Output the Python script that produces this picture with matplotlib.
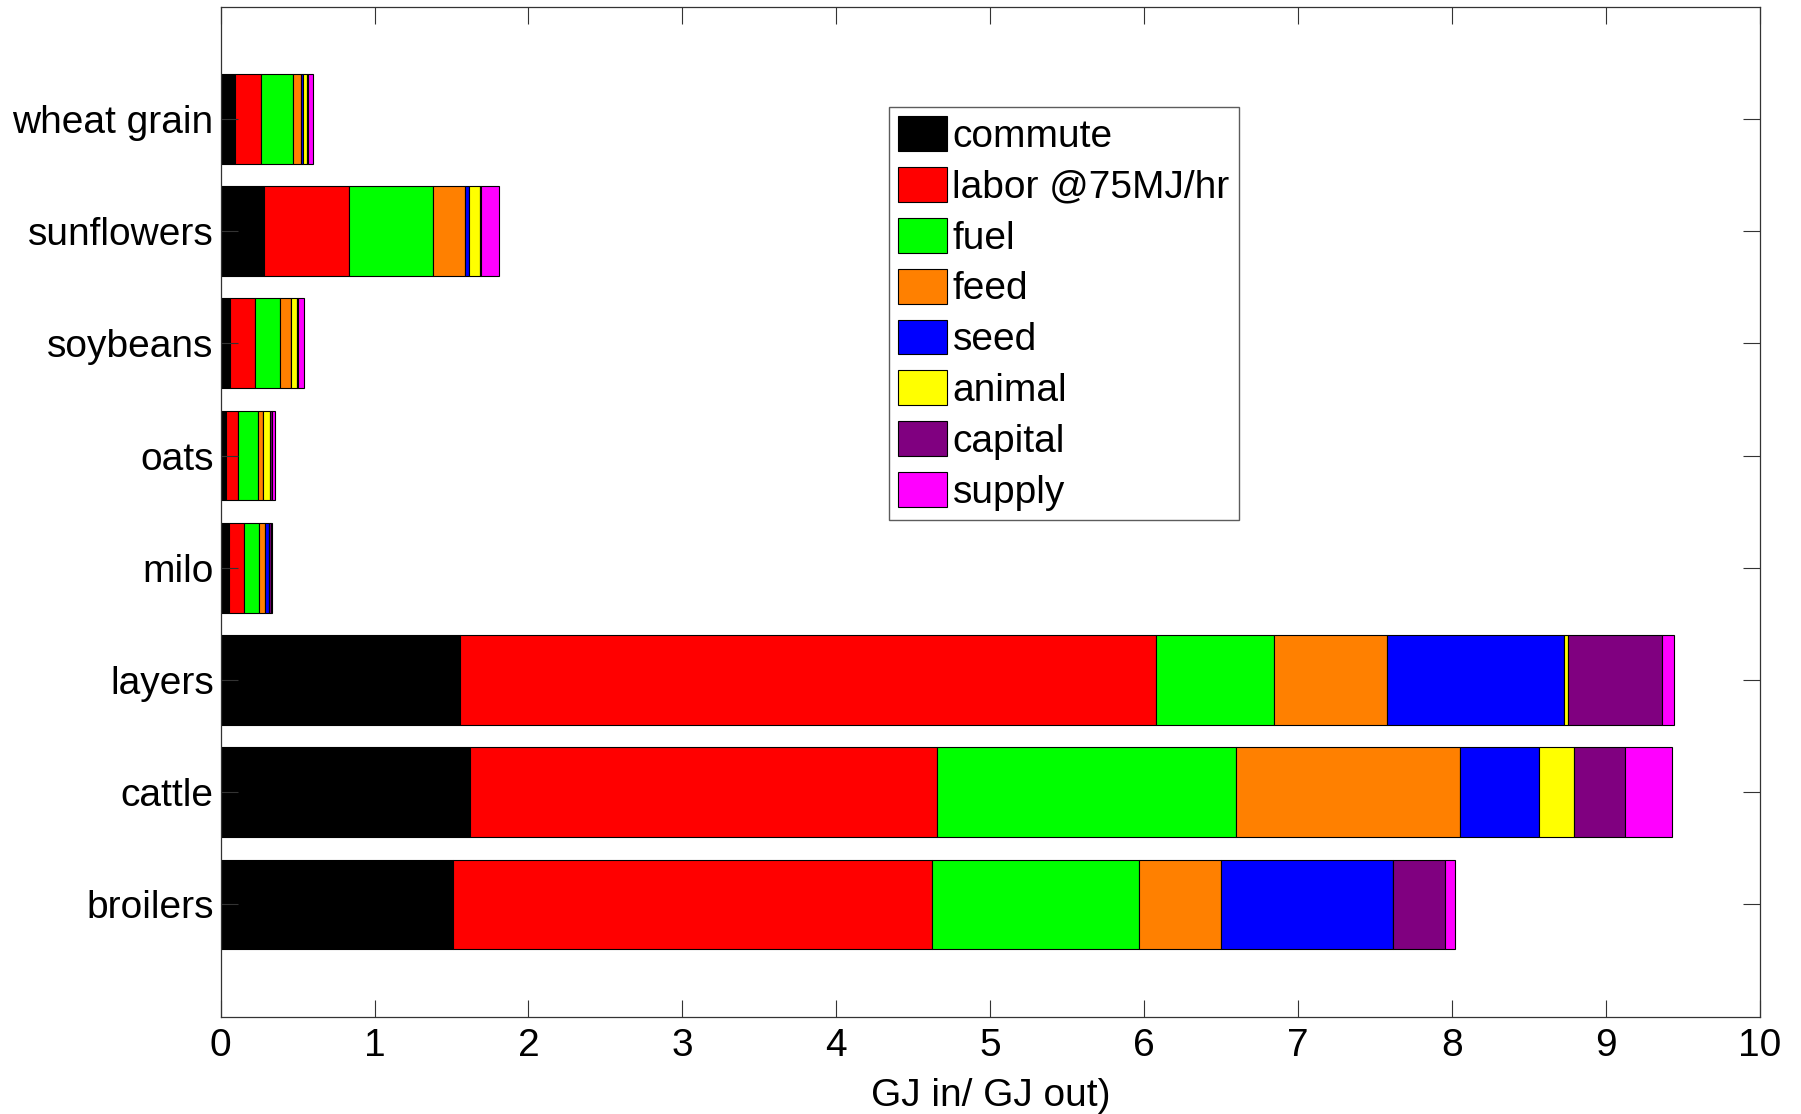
import numpy as np
import matplotlib
matplotlib.use("Agg")
import matplotlib.pyplot as plt

plt.rcParams["font.family"] = ["Liberation Sans", "DejaVu Sans"]

# Dane (GJ wkładu na GJ produktu)
crops = ["broilers", "cattle", "layers", "milo", "oats", "soybeans", "sunflowers", "wheat grain"]
components = ["commute", "labor @75MJ/hr", "fuel", "feed", "seed", "animal", "capital", "supply"]

commute = [1.509, 1.621, 1.553, 0.055, 0.036, 0.062, 0.285, 0.094]
labor = [3.114, 3.032, 4.526, 0.100, 0.076, 0.162, 0.546, 0.169]
fuel = [1.344, 1.941, 0.762, 0.097, 0.134, 0.163, 0.546, 0.204]
feed = [0.530, 1.459, 0.739, 0.037, 0.028, 0.067, 0.208, 0.056]
seed = [1.120, 0.511, 1.144, 0.028, 0.003, 0.005, 0.026, 0.010]
animal = [0.000, 0.228, 0.026, 0.000, 0.045, 0.037, 0.076, 0.030]
capital = [0.334, 0.329, 0.616, 0.010, 0.012, 0.005, 0.005, 0.005]
supply = [0.065, 0.308, 0.076, 0.010, 0.022, 0.042, 0.115, 0.035]

colors = ["black", (1, 0, 0), (0, 1, 0), (1, 0.5, 0), (0, 0, 1),
          (1, 1, 0), (0.5, 0, 0.5), (1, 0, 1)]

series = [commute, labor, fuel, feed, seed, animal, capital, supply]

fig = plt.figure(figsize=(18.01, 11.14), dpi=100)
ax = fig.add_axes([0.1225, 0.0874, 0.8547, 0.9066])

y = np.arange(1, len(crops) + 1)
left = np.zeros(len(crops))
for vals, col, name in zip(series, colors, components):
    ax.barh(y, vals, height=0.8, left=left, color=col,
            edgecolor="black", linewidth=0.8, label=name)
    left += np.array(vals)

ax.set_xlim(0, 10)
ax.set_ylim(0, 9)
ax.set_xticks(range(0, 11))
ax.set_yticks(y)
ax.set_yticklabels(crops)
ax.tick_params(axis="both", direction="in", length=12, width=0.8,
               labelsize=28, top=True, right=True, color="#333333")
ax.tick_params(axis="x", pad=8)
ax.tick_params(axis="y", pad=5)
for s in ax.spines.values():
    s.set_linewidth(0.9)
    s.set_color("#333333")

ax.set_xlabel("GJ in/ GJ out)", fontsize=28, labelpad=10)

leg = ax.legend(loc="upper left", bbox_to_anchor=(0.434, 0.9006),
                borderaxespad=0, fontsize=28, frameon=True, fancybox=False,
                handlelength=1.26, handleheight=1.0, handletextpad=0.14,
                labelspacing=0.31, borderpad=0.24)
leg.get_frame().set_edgecolor("#333333")
leg.get_frame().set_linewidth(1.0)

fig.savefig("out.png", dpi=100)
